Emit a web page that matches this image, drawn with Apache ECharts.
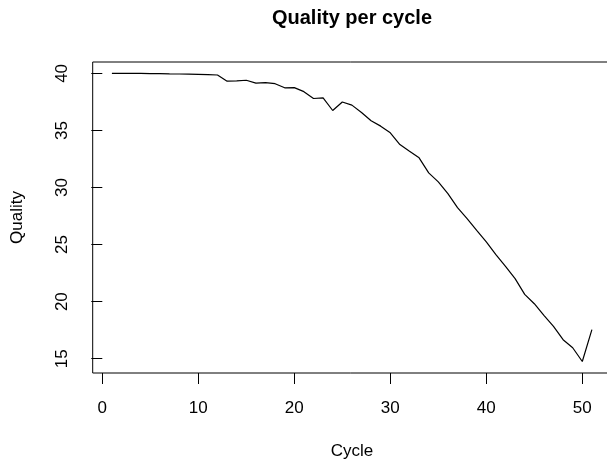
<!DOCTYPE html>
<html>
<head>
<meta charset="utf-8">
<script src="https://cdn.jsdelivr.net/npm/echarts@6/dist/echarts.min.js"></script>
<style>
  html, body { margin: 0; padding: 0; background: #fff; }
  #main { width: 607px; height: 460px; }
</style>
</head>
<body>
<div id="main"></div>
<script>
    // values
    var cycles = [1,2,3,4,5,6,7,8,9,10,11,12,13,14,15,16,17,18,19,20,21,22,23,24,25,26,
        27,28,29,30,31,32,33,34,35,36,37,38,39,40,41,42,43,44,45,46,47,48,49,50,51];
    var quality = [40.0,40.0,40.0,40.0,39.99,39.98,39.96,39.95,39.93,39.91,39.89,39.86,
        39.32,39.35,39.4,39.15,39.2,39.1,38.74,38.75,38.4,37.8,37.86,36.75,37.5,37.22,
        36.58,35.85,35.38,34.8,33.77,33.18,32.6,31.28,30.5,29.47,28.24,27.28,26.25,
        25.23,24.12,23.1,22.02,20.64,19.82,18.8,17.83,16.67,15.96,14.76,17.55];
    var xTicks = [0,10,20,30,40,50];
    var yTicks = [15,20,25,30,35,40];

    var font = "'Liberation Sans', Arial, Helvetica, sans-serif";
    var myChart = echarts.init(document.getElementById('main'));

    var points = [];
    for (var i = 0; i < cycles.length; i++) {
        points.push([cycles[i], quality[i]]);
    }

    myChart.setOption({
        animation: false,
        backgroundColor: '#fff',
        title: {
            text: 'Quality per cycle',
            left: 352,
            top: 8,
            padding: 0,
            textAlign: 'center',
            textStyle: {
                fontFamily: font,
                fontSize: 20,
                fontWeight: 'bold',
                color: '#000'
            }
        },
        grid: {
            left: 92.7,
            right: -4.1,
            top: 62,
            bottom: 87,
            show: true,
            borderColor: '#000',
            borderWidth: 1,
            outerBoundsMode: 'none'
        },
        xAxis: {
            type: 'value',
            min: -1,
            max: 53,
            name: 'Cycle',
            nameLocation: 'middle',
            nameGap: 70,
            nameTextStyle: { fontFamily: font, fontSize: 17, color: '#000' },
            axisLine: { show: false },
            axisTick: { show: true, length: 11, customValues: xTicks, lineStyle: { color: '#000' } },
            axisLabel: { margin: 27, customValues: xTicks, fontFamily: font, fontSize: 17, color: '#000' },
            splitLine: { show: false }
        },
        yAxis: {
            type: 'value',
            min: 13.75,
            max: 41.0,
            name: 'Quality',
            nameLocation: 'middle',
            nameGap: 67,
            nameTextStyle: { fontFamily: font, fontSize: 17, color: '#000' },
            axisLine: { show: false },
            axisTick: { show: true, length: 11, customValues: yTicks, lineStyle: { color: '#000' } },
            axisLabel: { margin: 22, rotate: 90, customValues: yTicks, fontFamily: font, fontSize: 17, color: '#000' },
            splitLine: { show: false }
        },
        series: [
            {
            name: 'Quality',
            type: 'line',
            data: points,
            showSymbol: false,
            lineStyle: { color: '#000', width: 1.2 }
        }
        ]
    });
</script>
</body>
</html>
